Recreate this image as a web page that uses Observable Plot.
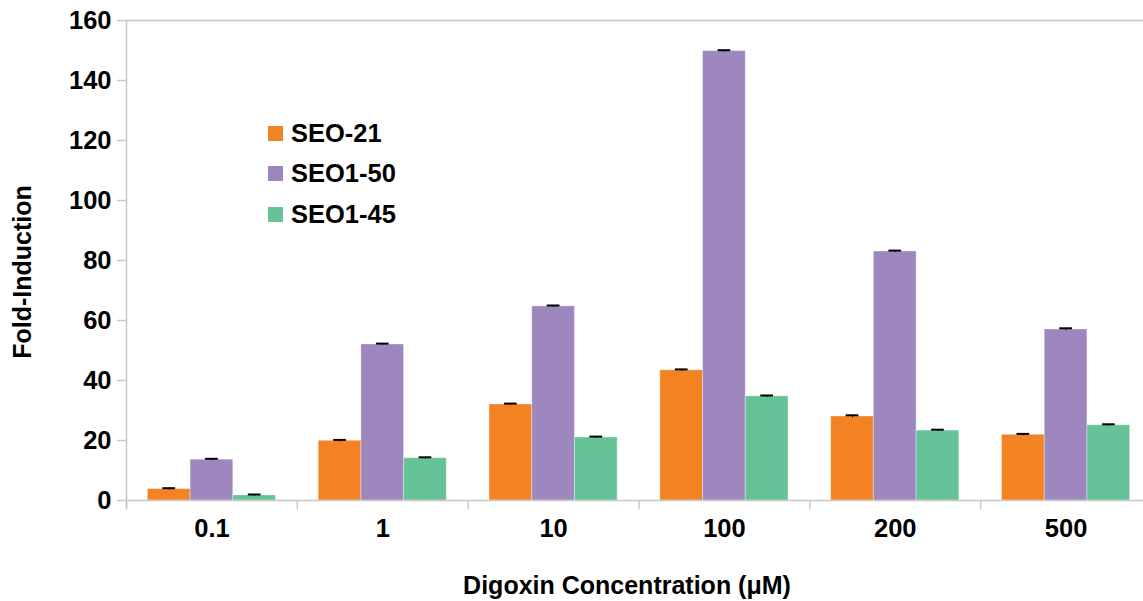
<!DOCTYPE html>
<html>
<head>
<meta charset="utf-8">
<script src="https://cdn.jsdelivr.net/npm/d3@7"></script>
<script src="https://cdn.jsdelivr.net/npm/@observablehq/plot@0.6"></script>
<style>
  html, body { margin: 0; padding: 0; background: #fff; }
  #wrap { position: relative; width: 1143px; height: 601px; overflow: hidden; font-family: "Liberation Sans", Arial, sans-serif; font-weight: bold; color: #000; }
  #chart { position: absolute; left: 0; top: 0; width: 1151px; }
  #chart svg { max-width: none !important; }
  .ttl { position: absolute; font-size: 25px; white-space: nowrap; }
  #legend { position: absolute; left: 268px; top: 113px; font-size: 25.5px; }
  #legend .row { display: flex; align-items: center; height: 40.5px; }
  #legend .sw { width: 15px; height: 15px; margin-right: 8px; }
</style>
</head>
<body>
<div id="wrap">
  <div id="chart"></div>
  <div class="ttl" id="ylab" style="left:22px;top:272px;transform:translate(-50%,-50%) rotate(-90deg);">Fold-Induction</div>
  <div class="ttl" id="xlab" style="left:627px;top:585px;transform:translate(-50%,-50%);">Digoxin Concentration (μM)</div>
  <div id="legend"></div>
</div>
<script>
const concentrations = ["0.1", "1", "10", "100", "200", "500"];
const series = ["SEO-21", "SEO1-50", "SEO1-45"];
const seo21 = [3.8, 19.9, 32, 43.4, 28, 21.9];
const seo150 = [13.6, 52, 64.7, 149.8, 83, 57];
const seo145 = [1.7, 14.1, 21, 34.7, 23.3, 25.1];
const errors21 = [0.3, 0.3, 0.3, 0.3, 0.4, 0.3];
const errors150 = [0.3, 0.3, 0.3, 0.3, 0.3, 0.4];
const errors145 = [0.3, 0.3, 0.3, 0.3, 0.3, 0.3];
const colors = ["#F28222", "#9E86BE", "#66C397"];
const yTicks = [0, 20, 40, 60, 80, 100, 120, 140, 160];

const values = [seo21, seo150, seo145];
const errs = [errors21, errors150, errors145];
const data = [];
concentrations.forEach((c, i) => {
  series.forEach((s, j) => {
    data.push({conc: c, series: s, value: values[j][i], err: errs[j][i]});
  });
});

const chart = Plot.plot({
  width: 1151,
  height: 601,
  marginLeft: 126,
  marginRight: 0,
  marginTop: 20,
  marginBottom: 101,
  style: {fontFamily: "Liberation Sans, Arial, sans-serif", fontWeight: "bold", fontSize: "25.5px", color: "#000", background: "#fff", maxWidth: "none"},
  fx: {domain: concentrations, paddingInner: 0, paddingOuter: 0, round: false, label: null},
  x: {domain: series, paddingInner: 0, paddingOuter: 0.5, round: false, axis: null},
  y: {domain: [0, 160], label: null},
  color: {domain: series, range: colors},
  marks: [
    Plot.ruleY([160], {stroke: "#c8c8c8", strokeWidth: 1.5}),
    Plot.barY(data, {fx: "conc", x: "series", y: "value", fill: "series", stroke: "#ffffff", strokeOpacity: 0.35, strokeWidth: 1}),
    Plot.ruleX(data, {fx: "conc", x: "series", y1: d => d.value - d.err, y2: d => d.value + d.err, stroke: "#000", strokeWidth: 1}),
    Plot.tickY(data, {fx: "conc", x: "series", y: d => d.value + d.err, stroke: "#000", strokeWidth: 2, insetLeft: 15, insetRight: 15}),
    Plot.ruleY([0], {stroke: "#c8c8c8", strokeWidth: 1.5}),
    Plot.frame({anchor: "left", stroke: "#c8c8c8", strokeWidth: 1.5, insetTop: 480, insetBottom: -8}),
    Plot.frame({anchor: "left", stroke: "#c8c8c8", strokeWidth: 1.5, insetBottom: -8, facetAnchor: "left"}),
    Plot.axisY({ticks: yTicks, tickSize: 9, tickPadding: 6, stroke: "#c8c8c8", strokeWidth: 1.5, fill: "#000", fontSize: 25.5, label: null}),
    Plot.axisFx({anchor: "bottom", tickSize: 0, tickPadding: 18, fontSize: 25.5, fill: "#000", label: null})
  ]
});
document.getElementById("chart").appendChild(chart);

const legend = document.getElementById("legend");
series.forEach((s, j) => {
  const row = document.createElement("div");
  row.className = "row";
  const sw = document.createElement("div");
  sw.className = "sw";
  sw.style.background = colors[j];
  const t = document.createElement("span");
  t.textContent = s;
  row.appendChild(sw);
  row.appendChild(t);
  legend.appendChild(row);
});
</script>
</body>
</html>
